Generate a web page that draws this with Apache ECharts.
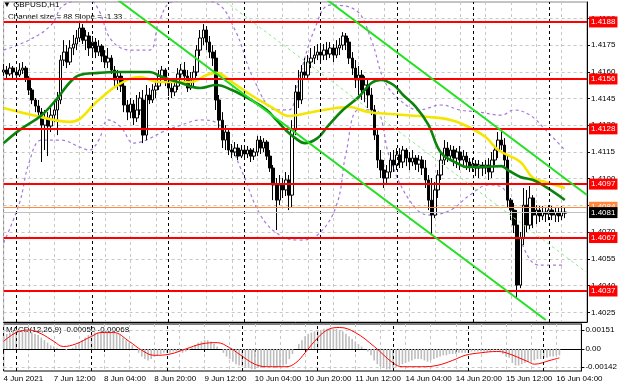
<!DOCTYPE html>
<html><head><meta charset="utf-8">
<script src="https://cdn.jsdelivr.net/npm/echarts@6/dist/echarts.min.js"></script>
<style>html,body{margin:0;padding:0;background:#fff}#c{width:620px;height:388px}</style>
</head><body><div id="c"></div>
<script>
// ---- time axis: trading days and hours shown on the chart ----
const tradingDays = [['4 Jun',20,23],['7 Jun',0,23],['8 Jun',0,23],['9 Jun',0,23],['10 Jun',0,23],['11 Jun',0,23],['14 Jun',0,23],['15 Jun',0,23],['16 Jun',0,12]];
const tickLabels = ['4 Jun 2021','7 Jun 12:00','8 Jun 04:00','8 Jun 20:00','9 Jun 12:00','10 Jun 04:00','10 Jun 20:00','11 Jun 12:00','14 Jun 04:00','14 Jun 20:00','15 Jun 12:00','16 Jun 04:00'];
const daySeparators = [4,28,52,76,100,124,148,172];

// ---- GBPUSD H1 candles: [open, close, low, high] ----
const candles = [
[1.41599,1.41610,1.41576,1.41644],[1.41610,1.41588,1.41565,1.41633],[1.41588,1.41621,1.41576,1.41649],[1.41621,1.41599,1.41554,1.41633],
[1.41599,1.41582,1.41554,1.41621],[1.41582,1.41610,1.41571,1.41649],[1.41610,1.41621,1.41588,1.41655],[1.41621,1.41565,1.41543,1.41633],
[1.41565,1.41498,1.41470,1.41576],[1.41498,1.41442,1.41419,1.41509],[1.41442,1.41408,1.41374,1.41453],[1.41408,1.41374,1.41352,1.41442],
[1.41374,1.41301,1.41094,1.41397],[1.41301,1.41341,1.41161,1.41386],[1.41341,1.41296,1.41127,1.41374],[1.41296,1.41357,1.41262,1.41397],
[1.41357,1.41386,1.41318,1.41442],[1.41386,1.41442,1.41245,1.41487],[1.41442,1.41666,1.41419,1.41694],[1.41666,1.41711,1.41633,1.41778],
[1.41711,1.41655,1.41621,1.41750],[1.41655,1.41734,1.41638,1.41778],[1.41734,1.41756,1.41694,1.41807],[1.41756,1.41790,1.41722,1.41835],
[1.41790,1.41846,1.41767,1.41880],[1.41846,1.41778,1.41756,1.41868],[1.41778,1.41801,1.41722,1.41835],[1.41801,1.41734,1.41689,1.41823],
[1.41734,1.41767,1.41694,1.41801],[1.41767,1.41711,1.41677,1.41790],[1.41711,1.41745,1.41689,1.41778],[1.41745,1.41689,1.41655,1.41756],
[1.41689,1.41655,1.41621,1.41722],[1.41655,1.41677,1.41621,1.41734],[1.41677,1.41610,1.41588,1.41694],[1.41610,1.41554,1.41520,1.41633],
[1.41554,1.41576,1.41498,1.41610],[1.41576,1.41520,1.41487,1.41599],[1.41520,1.41414,1.41374,1.41554],[1.41414,1.41374,1.41329,1.41442],
[1.41374,1.41419,1.41341,1.41453],[1.41419,1.41341,1.41301,1.41442],[1.41341,1.41386,1.41318,1.41470],[1.41386,1.41453,1.41357,1.41487],
[1.41442,1.41245,1.41200,1.41498],[1.41245,1.41470,1.41217,1.41526],[1.41470,1.41442,1.41419,1.41509],[1.41442,1.41498,1.41425,1.41531],
[1.41498,1.41520,1.41453,1.41554],[1.41520,1.41576,1.41498,1.41610],[1.41576,1.41610,1.41554,1.41633],[1.41610,1.41543,1.41520,1.41621],
[1.41543,1.41509,1.41464,1.41565],[1.41509,1.41487,1.41453,1.41543],[1.41487,1.41520,1.41464,1.41554],[1.41520,1.41588,1.41498,1.41621],
[1.41588,1.41610,1.41554,1.41644],[1.41610,1.41576,1.41543,1.41655],[1.41576,1.41509,1.41487,1.41610],[1.41509,1.41554,1.41498,1.41599],
[1.41554,1.41599,1.41520,1.41633],[1.41599,1.41722,1.41576,1.41750],[1.41722,1.41790,1.41689,1.41835],[1.41790,1.41835,1.41750,1.41868],
[1.41835,1.41767,1.41722,1.41857],[1.41767,1.41711,1.41677,1.41801],[1.41711,1.41677,1.41633,1.41750],[1.41677,1.41442,1.41386,1.41722],
[1.41442,1.41329,1.41285,1.41470],[1.41329,1.41217,1.41172,1.41374],[1.41217,1.41262,1.41161,1.41301],[1.41262,1.41161,1.41133,1.41285],
[1.41161,1.41150,1.41116,1.41195],[1.41150,1.41172,1.41127,1.41206],[1.41172,1.41127,1.41105,1.41195],[1.41127,1.41161,1.41116,1.41189],
[1.41161,1.41139,1.41105,1.41184],[1.41139,1.41161,1.41116,1.41184],[1.41161,1.41127,1.41094,1.41172],[1.41127,1.41150,1.41105,1.41172],
[1.41150,1.41217,1.41127,1.41240],[1.41217,1.41172,1.41139,1.41240],[1.41172,1.41206,1.41150,1.41228],[1.41206,1.41127,1.41105,1.41217],
[1.41127,1.41060,1.41038,1.41161],[1.41060,1.40965,1.40880,1.41077],[1.40965,1.40880,1.40712,1.41004],[1.40880,1.40965,1.40852,1.41021],
[1.40965,1.40937,1.40892,1.41004],[1.40937,1.40993,1.40903,1.41038],[1.40993,1.40908,1.40824,1.41021],[1.40908,1.41273,1.40836,1.41329],
[1.41273,1.41487,1.41245,1.41526],[1.41487,1.41442,1.41397,1.41610],[1.41442,1.41599,1.41419,1.41638],[1.41599,1.41582,1.41554,1.41677],
[1.41582,1.41655,1.41554,1.41694],[1.41655,1.41677,1.41621,1.41734],[1.41677,1.41694,1.41644,1.41745],[1.41694,1.41711,1.41666,1.41756],
[1.41711,1.41694,1.41655,1.41745],[1.41694,1.41722,1.41666,1.41756],[1.41722,1.41700,1.41666,1.41767],[1.41700,1.41734,1.41677,1.41767],
[1.41734,1.41694,1.41655,1.41756],[1.41694,1.41734,1.41677,1.41778],[1.41734,1.41750,1.41694,1.41790],[1.41750,1.41801,1.41722,1.41823],
[1.41801,1.41767,1.41722,1.41818],[1.41767,1.41677,1.41644,1.41790],[1.41677,1.41621,1.41582,1.41711],[1.41621,1.41554,1.41509,1.41666],
[1.41554,1.41582,1.41470,1.41633],[1.41582,1.41498,1.41442,1.41610],[1.41498,1.41526,1.41430,1.41576],[1.41526,1.41470,1.41397,1.41565],
[1.41470,1.41386,1.41357,1.41509],[1.41386,1.41245,1.41217,1.41414],[1.41245,1.41105,1.41060,1.41273],[1.41105,1.41049,1.41004,1.41161],
[1.41049,1.41004,1.40948,1.41105],[1.41004,1.41038,1.40965,1.41077],[1.41038,1.41105,1.41004,1.41150],[1.41105,1.41077,1.41038,1.41161],
[1.41077,1.41133,1.41049,1.41172],[1.41133,1.41094,1.41060,1.41172],[1.41094,1.41161,1.41060,1.41184],[1.41161,1.41116,1.41071,1.41172],
[1.41116,1.41094,1.41049,1.41150],[1.41094,1.41116,1.41071,1.41161],[1.41116,1.41082,1.41049,1.41133],[1.41082,1.41105,1.41038,1.41133],
[1.41105,1.41060,1.41021,1.41127],[1.41060,1.40993,1.40948,1.41105],[1.40993,1.40880,1.40824,1.41021],[1.40880,1.40796,1.40684,1.41004],
[1.40796,1.40937,1.40779,1.40981],[1.40937,1.41021,1.40892,1.41049],[1.41021,1.41105,1.40993,1.41150],[1.41105,1.41172,1.41077,1.41217],
[1.41172,1.41127,1.41094,1.41206],[1.41127,1.41161,1.41105,1.41189],[1.41161,1.41116,1.41071,1.41184],[1.41116,1.41150,1.41060,1.41172],
[1.41150,1.41105,1.41049,1.41184],[1.41105,1.41127,1.41071,1.41161],[1.41127,1.41094,1.41049,1.41150],[1.41094,1.41071,1.41038,1.41116],
[1.41071,1.41082,1.41038,1.41116],[1.41082,1.41060,1.41015,1.41105],[1.41060,1.41077,1.41004,1.41105],[1.41077,1.41060,1.41015,1.41094],
[1.41060,1.41077,1.41026,1.41105],[1.41077,1.41038,1.40993,1.41116],[1.41038,1.41105,1.41004,1.41150],[1.41105,1.41161,1.41077,1.41189],
[1.41161,1.41217,1.41116,1.41262],[1.41217,1.41189,1.41161,1.41273],[1.41189,1.41105,1.41060,1.41228],[1.41105,1.40880,1.40841,1.41133],
[1.40880,1.40824,1.40768,1.40892],[1.40824,1.40740,1.40695,1.40864],[1.40740,1.40403,1.40330,1.40824],[1.40403,1.40667,1.40386,1.40701],
[1.40667,1.40852,1.40628,1.40948],[1.40852,1.40740,1.40701,1.40937],[1.40740,1.40892,1.40712,1.40959],[1.40892,1.40796,1.40723,1.40908],
[1.40796,1.40824,1.40746,1.40852],[1.40824,1.40791,1.40757,1.40847],[1.40791,1.40813,1.40768,1.40847],[1.40813,1.40802,1.40757,1.40841],
[1.40802,1.40824,1.40768,1.40852],[1.40824,1.40796,1.40768,1.40847],[1.40796,1.40813,1.40757,1.40841],[1.40813,1.40791,1.40757,1.40836],
[1.40791,1.40813,1.40768,1.40847],[1.40813,1.40807,1.40779,1.40836]
];

// ---- moving averages read at points: [bar index, price] ----
const maFast = [[0,1.41200],[5,1.41273],[12,1.41357],[17,1.41453],[21,1.41543],[24,1.41582],[30,1.41594],[35,1.41599],[46,1.41599],[50,1.41571],[56,1.41537],[62,1.41509],[67,1.41526],[72,1.41498],[78,1.41442],[83,1.41386],[86,1.41330],[89,1.41273],[92,1.41228],[95,1.41200],[99,1.41228],[102,1.41290],[107,1.41386],[112,1.41459],[116,1.41537],[119,1.41554],[123,1.41526],[126,1.41470],[130,1.41403],[134,1.41302],[138,1.41144],[143,1.41088],[146,1.41066],[151,1.41066],[157,1.41071],[159,1.41049],[163,1.41010],[167,1.40993],[171,1.40954],[177,1.40881]];
const maSlow = [[0,1.41397],[9,1.41358],[21,1.41319],[30,1.41442],[36,1.41526],[43,1.41571],[49,1.41543],[59,1.41543],[64,1.41582],[67,1.41594],[72,1.41543],[78,1.41470],[85,1.41397],[90,1.41352],[93,1.41358],[101,1.41386],[109,1.41403],[115,1.41375],[122,1.41363],[134,1.41347],[141,1.41330],[146,1.41296],[152,1.41234],[156,1.41161],[163,1.41094],[167,1.41004],[171,1.40981],[177,1.40948]];

// ---- envelope bands (dotted) ----
const bandUpper = [[0,1.41722],[8,1.41778],[15,1.41863],[19,1.41975],[27,1.42003],[30,1.41947],[34,1.41778],[40,1.41722],[46,1.41722],[49,1.41880],[53,1.41992],[60,1.42003],[67,1.41986],[73,1.41835],[79,1.41554],[86,1.41386],[90,1.41386],[93,1.41554],[98,1.41835],[103,1.41975],[111,1.41947],[116,1.41778],[120,1.41554],[125,1.41442],[131,1.41386],[138,1.41414],[144,1.41386],[150,1.41374],[157,1.41357],[161,1.41386],[166,1.41357],[171,1.41273],[177,1.41161]];
const bandLower = [[0,1.40640],[5,1.40863],[8,1.41088],[12,1.41217],[18,1.41217],[24,1.41178],[27,1.41161],[30,1.41217],[33,1.41330],[37,1.41290],[41,1.41200],[45,1.41217],[50,1.41262],[56,1.41301],[62,1.41330],[68,1.41301],[75,1.41049],[81,1.40796],[87,1.40684],[93,1.40656],[99,1.40684],[105,1.40852],[108,1.41144],[112,1.41386],[117,1.41386],[122,1.41105],[128,1.40880],[134,1.40796],[141,1.40824],[147,1.40908],[153,1.40965],[158,1.40937],[163,1.40656],[169,1.40515],[177,1.40515]];

// ---- regression channel ----
const channelLower = [[36,1.42004],[171,1.40207]];
const channelUpper = [[102,1.42004],[184,1.40909]];
const channelMid = [[70,1.41994],[184,1.40473]];

// ---- horizontal levels ----
const levelsRed = [1.4188,1.4156,1.4128,1.4097,1.4067,1.4037];
const levelOrange = [1.4084];
const levelPrice = [1.4081];
const priceTicks = [1.4025,1.4040,1.4055,1.4070,1.4085,1.4100,1.4115,1.4130,1.4145,1.4160,1.4175,1.4190];

// ---- MACD(12,26,9) ----
const macdMain = [0.0010,0.0012,0.0013,0.0014,0.0015,0.0015,0.0015,0.0014,0.0014,0.0013,
0.0012,0.0011,0.0009,0.0007,0.0005,0.0003,0.0002,0.0001,0.0000,0.0000,
-0.0001,0.0000,0.0001,0.0003,0.0005,0.0007,0.0009,0.0011,0.0012,0.0013,
0.0013,0.0014,0.0014,0.0014,0.0014,0.0013,0.0012,0.0011,0.0009,0.0007,
0.0005,0.0003,0.0000,-0.0003,-0.0006,-0.0008,-0.0009,-0.0008,-0.0006,-0.0005,
-0.0004,-0.0003,-0.0003,-0.0003,-0.0002,-0.0002,-0.0002,-0.0003,-0.0002,-0.0001,
0.0001,0.0003,0.0005,0.0006,0.0007,0.0007,0.0006,0.0004,0.0002,0.0000,
-0.0003,-0.0006,-0.0008,-0.0010,-0.0012,-0.0013,-0.0014,-0.0015,-0.0015,-0.0016,
-0.0016,-0.0015,-0.0015,-0.0015,-0.0014,-0.0014,-0.0015,-0.0015,-0.0014,-0.0013,
-0.0012,-0.0008,-0.0004,0.0000,0.0004,0.0007,0.0010,0.0012,0.0013,0.0014,
0.0015,0.0015,0.0016,0.0016,0.0016,0.0016,0.0016,0.0015,0.0014,0.0012,
0.0010,0.0008,0.0006,0.0004,0.0002,0.0000,-0.0002,-0.0005,-0.0009,-0.0012,
-0.0014,-0.0015,-0.0016,-0.0016,-0.0015,-0.0014,-0.0013,-0.0012,-0.0011,-0.0010,
-0.0009,-0.0008,-0.0008,-0.0008,-0.0009,-0.0010,-0.0009,-0.0008,-0.0007,-0.0006,
-0.0005,-0.0005,-0.0004,-0.0004,-0.0004,-0.0003,-0.0003,-0.0003,-0.0003,-0.0002,
-0.0002,-0.0002,-0.0002,-0.0002,-0.0002,-0.0002,-0.0001,-0.0001,-0.0002,-0.0004,
-0.0006,-0.0007,-0.0011,-0.0013,-0.0013,-0.0012,-0.0011,-0.0010,-0.0010,-0.0009,
-0.0008,-0.0008,-0.0007,-0.0007,-0.0006,-0.0006,-0.0005,-0.0005];
const macdSignal = [[0,0.0006],[4,0.0013],[8,0.0015],[12,0.0012],[16,0.0006],[19,0.0002],[23,0.0004],[28,0.0010],[31,0.0013],[35,0.0013],[40,0.0006],[44,-0.0001],[48,-0.0005],[53,-0.0004],[58,0.0000],[63,0.0004],[68,0.0005],[72,0.0001],[75,-0.0004],[80,-0.0012],[84,-0.0014],[90,-0.0014],[93,-0.0011],[96,-0.0003],[99,0.0006],[103,0.0015],[107,0.0017],[112,0.0013],[118,0.0002],[124,-0.0011],[127,-0.0014],[133,-0.0014],[138,-0.0013],[143,-0.0009],[147,-0.0005],[152,-0.0003],[157,-0.0002],[160,-0.0003],[167,-0.0010],[169,-0.0012],[174,-0.0009],[177,-0.0007]];
const macdTicks = [-0.00142,0,0.00151];

// build categories
const categories = [];
tradingDays.forEach(d => { for (let h = d[1]; h <= d[2]; h++) categories.push(d[0] + ' ' + (h < 10 ? '0' : '') + h + ':00'); });

const FONT = 'Liberation Sans';
const chart = echarts.init(document.getElementById('c'), null, {renderer: 'canvas'});
const gridLine = {show: true, lineStyle: {color: '#c8c8c8', type: [3, 3], width: 1}};
const sepLine = {symbol: 'none', silent: true, label: {show: false}, lineStyle: {color: '#000', type: [3, 3], width: 1}, data: daySeparators.map(v => ({xAxis: v}))};
function levelMark(vals, color, bg, width) {
  return {symbol: 'none', silent: true, animation: false, precision: 4,
      lineStyle: {color: color, type: 'solid', width: width},
      label: {show: true, position: 'end', distance: 2, formatter: p => Number(p.value).toFixed(4),
        color: '#fff', backgroundColor: bg, padding: [2, 2, 1, 2], fontFamily: FONT, fontSize: 8},
      data: vals.map(v => ({yAxis: v}))};
}
const option = {
  animation: false,
  backgroundColor: '#fff',
  grid: [
    {left: 3.6, right: 33, top: 2, height: 320, show: true, borderColor: '#888', borderWidth: 1},
    {left: 3.6, right: 33, top: 324, height: 47, show: true, borderColor: '#000', borderWidth: 1}
  ],
  xAxis: [
    {type: 'category', gridIndex: 0, data: categories, boundaryGap: false,
      axisLine: {show: true, lineStyle: {color: '#000'}}, axisTick: {show: false}, axisLabel: {show: false},
      splitLine: Object.assign({interval: 7}, gridLine)},
    {type: 'category', gridIndex: 1, data: categories, boundaryGap: false,
      axisLine: {show: true, lineStyle: {color: '#000'}},
      axisTick: {show: true, interval: 15, length: 3, lineStyle: {color: '#000'}},
      axisLabel: {show: true, interval: 15, align: 'left', margin: 4, fontFamily: FONT, fontSize: 8, color: '#000',
        formatter: (v, i) => tickLabels[Math.round(i / 16)] || ''},
      splitLine: Object.assign({interval: 7}, gridLine)}
  ],
  yAxis: [
    {type: 'value', gridIndex: 0, position: 'right', min: 1.40196, max: 1.41992,
      axisLine: {show: true, lineStyle: {color: '#000'}},
      axisTick: {show: true, length: 3, inside: false, customValues: priceTicks, lineStyle: {color: '#000'}},
      axisLabel: {show: true, customValues: priceTicks, margin: 4, fontFamily: FONT, fontSize: 8, color: '#000', formatter: v => v.toFixed(4)},
      splitLine: gridLine},
    {type: 'value', gridIndex: 1, position: 'right', min: -0.001739, max: 0.001976,
      axisLine: {show: true, lineStyle: {color: '#000'}},
      axisTick: {show: true, length: 3, customValues: macdTicks, lineStyle: {color: '#000'}},
      axisLabel: {show: true, customValues: macdTicks, margin: 4, fontFamily: FONT, fontSize: 8, color: '#000',
        formatter: v => Math.abs(v) < 1e-9 ? '0.00' : v.toFixed(5)},
      splitLine: gridLine}
  ],
  series: [
    {name: 'bandUpper', type: 'line', data: bandUpper, smooth: 0.4, symbol: 'none', z: 1,
      lineStyle: {color: '#a678dc', width: 1.2, type: [3, 3]}},
    {name: 'bandLower', type: 'line', data: bandLower, smooth: 0.4, symbol: 'none', z: 1,
      lineStyle: {color: '#a678dc', width: 1.2, type: [3, 3]}},
    {name: 'GBPUSD', type: 'candlestick', data: candles, barWidth: 3, z: 2,
      itemStyle: {color: '#ffffff', color0: '#000000', borderColor: '#000000', borderColor0: '#000000', borderWidth: 1},
      markLine: sepLine},
    {name: 'maSlow', type: 'line', data: maSlow, smooth: 0.4, symbol: 'none', z: 3,
      lineStyle: {color: '#f5e600', width: 2.6}},
    {name: 'maFast', type: 'line', data: maFast, smooth: 0.4, symbol: 'none', z: 3,
      lineStyle: {color: '#0b840b', width: 2.6}},
    {name: 'chLower', type: 'line', data: channelLower, symbol: 'none', z: 5, clip: true,
      lineStyle: {color: '#22e022', width: 2}, markLine: levelMark(levelsRed, '#ff0000', '#ff0000', 2)},
    {name: 'chUpper', type: 'line', data: channelUpper, symbol: 'none', z: 6, clip: true,
      lineStyle: {color: '#22e022', width: 2}, markLine: levelMark(levelOrange, '#ff8a3c', '#ff8a3c', 1)},
    {name: 'chMid', type: 'line', data: channelMid, symbol: 'none', z: 7, clip: true,
      lineStyle: {color: '#8ee88e', width: 1, type: [3, 3]}, markLine: levelMark(levelPrice, '#c0c0c0', '#000000', 1)},
    {name: 'MACD', type: 'bar', xAxisIndex: 1, yAxisIndex: 1, data: macdMain, barWidth: 1.6,
      itemStyle: {color: '#bdbdbd'}, markLine: sepLine},
    {name: 'Signal', type: 'line', xAxisIndex: 1, yAxisIndex: 1, data: macdSignal, smooth: 0.4, symbol: 'none',
      lineStyle: {color: '#ff0000', width: 1}}
  ],
  graphic: [
    {type: 'text', left: 3, top: 1, style: {text: '▼ GBPUSD,H1', font: '8px "' + FONT + '"', fill: '#000'}},
    {type: 'text', left: 8, top: 13, style: {text: 'Channel size = 88 Slope = -1.33', font: '8px "' + FONT + '"', fill: '#000'}},
    {type: 'text', left: 6, top: 326, style: {text: 'MACD(12,26,9) -0.00050 -0.00068', font: '8px "' + FONT + '"', fill: '#000'}}
  ]
};
chart.setOption(option);
</script>
</body></html>
